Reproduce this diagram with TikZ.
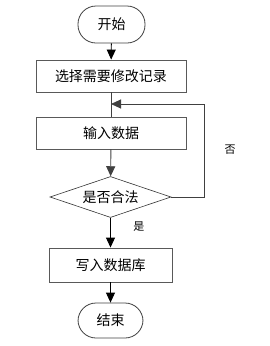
\documentclass[tikz,border=0pt]{standalone}
\usepackage{fontspec}
\newfontfamily\cjk{Noto Sans CJK SC}
\usetikzlibrary{arrows.meta,shapes.geometric}
\begin{document}
\begin{tikzpicture}[x=1pt,y=-1pt,
  font=\cjk\fontsize{14}{15}\selectfont,
  term/.style={draw=black!75,line width=0.8pt,rounded corners=18pt,minimum width=67pt,minimum height=37pt,inner sep=0pt},
  procbox/.style={draw=black!65,line width=0.9pt,minimum width=150pt,minimum height=32pt,inner sep=0pt},
  decis/.style={draw=black!80,line width=0.6pt,diamond,aspect=2.95,minimum width=121pt,minimum height=41pt,inner sep=0pt},
  conn/.style={draw=black!75,line width=0.9pt},
  arr/.style={conn,-{Triangle[width=9pt,length=10pt]}},
  lbl/.style={font=\cjk\fontsize{11}{12}\selectfont}]
\useasboundingbox (0,0) rectangle (270,346);
\node[term] (start) at (111.5,24.5) {开始};
\node[procbox] (b1) at (111,76) {选择需要修改记录};
\node[procbox] (b2) at (111,133) {输入数据};
\node[decis] (d) at (110.5,197) {是否合法};
\node[procbox,minimum width=123pt,minimum height=34pt] (b3) at (110.5,265) {写入数据库};
\node[term,minimum width=65pt,minimum height=35pt] (end) at (110.5,320.5) {结束};
\coordinate (j) at (111,104);
\coordinate (r1) at (204,197);
\coordinate (r2) at (204,104);
\draw[arr,draw=black] (start) -- (b1);
\draw[conn] (b1) -- (b2);
\draw[arr] (b2) -- (d);
\draw[arr,draw=black] (d) -- node[lbl,right,pos=0.3,xshift=19pt]{是} (b3);
\draw[arr,draw=black] (b3) -- (end);
\draw[conn] (d.east) -- (r1) -- (r2);
\draw[arr] (r2) -- (j);
\node[lbl] (no) at (230,150) {否};
\end{tikzpicture}
\end{document}
